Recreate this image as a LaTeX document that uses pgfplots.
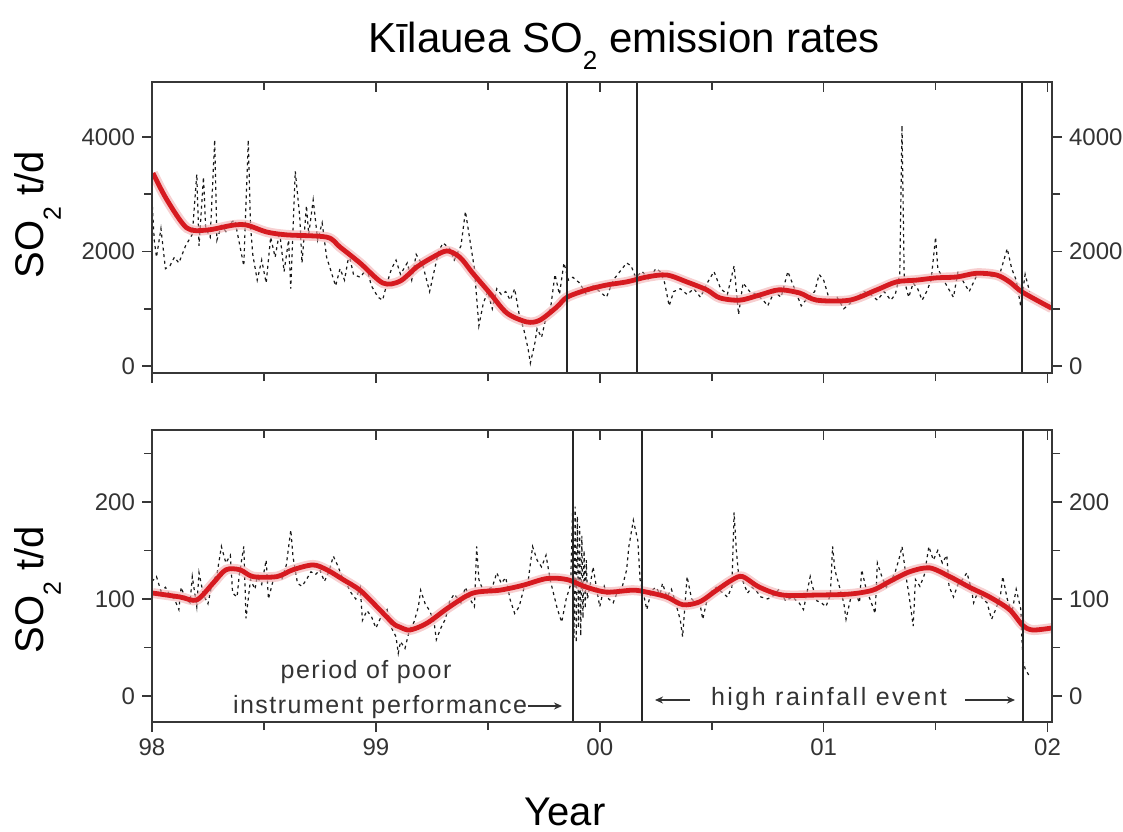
\documentclass[border=0pt]{standalone}
\usepackage{fontspec}
\setmainfont{Liberation Sans}
\newfontfamily\annfont[LetterSpace=6]{Liberation Sans}
\newfontfamily\annwidefont[LetterSpace=10]{Liberation Sans}
\usepackage{pgfplots}
\usepackage{pgfplotstable}
\pgfplotsset{compat=1.18}
\usetikzlibrary{arrows.meta}

\definecolor{fitred}{RGB}{214,26,32}
\definecolor{frame}{RGB}{55,55,55}

% low-set subscript used in the chemical formula
\newcommand{\lowsub}[1]{\raisebox{-0.42em}{\fontsize{0.62em}{0.7em}\selectfont #1}}

% Daily SO2 emission rates, 1998-2002 (t/d), upper panel
\pgfplotstableread{
x y
1998.00 2900
1998.01 2200
1998.02 1900
1998.04 2400
1998.06 1700
1998.08 1750
1998.10 1900
1998.12 1800
1998.15 2100
1998.18 2300
1998.20 3350
1998.21 2100
1998.23 3300
1998.24 2400
1998.26 2250
1998.28 3950
1998.29 2200
1998.31 2450
1998.33 2350
1998.35 2500
1998.37 2550
1998.39 2150
1998.41 1750
1998.43 3950
1998.44 2450
1998.45 1950
1998.47 1500
1998.49 1850
1998.51 1450
1998.53 2250
1998.55 1900
1998.57 2350
1998.59 1650
1998.61 2200
1998.62 1350
1998.64 3400
1998.66 2600
1998.67 1800
1998.69 2800
1998.70 2300
1998.72 2900
1998.74 2200
1998.76 2500
1998.78 1900
1998.80 1650
1998.82 1400
1998.84 1700
1998.86 1500
1998.88 1950
1998.90 1600
1998.93 1550
1998.96 1700
1998.98 1400
1999.01 1200
1999.03 1150
1999.05 1450
1999.07 1700
1999.09 1850
1999.11 1600
1999.14 1800
1999.16 1500
1999.18 1950
1999.21 1750
1999.24 1300
1999.26 1650
1999.28 2000
1999.30 2150
1999.33 2050
1999.35 1850
1999.38 2100
1999.40 2700
1999.42 2200
1999.44 1700
1999.46 700
1999.48 1100
1999.50 1300
1999.52 1000
1999.54 1350
1999.56 1250
1999.58 1300
1999.60 1150
1999.62 1350
1999.64 900
1999.66 650
1999.68 300
1999.69 50
1999.71 400
1999.72 650
1999.74 500
1999.76 850
1999.78 1000
1999.80 1600
1999.82 1250
1999.84 1800
1999.86 1500
1999.88 1550
1999.91 1450
1999.94 1250
1999.97 1400
2000.00 1300
2000.03 1200
2000.06 1500
2000.09 1650
2000.12 1800
2000.14 1750
2000.16 1550
2000.19 1650
2000.22 1500
2000.25 1700
2000.27 1650
2000.29 1450
2000.31 1050
2000.33 1300
2000.36 1350
2000.39 1250
2000.42 1350
2000.45 1200
2000.48 1450
2000.51 1650
2000.54 1350
2000.57 1250
2000.60 1750
2000.62 900
2000.64 1450
2000.67 1300
2000.70 1250
2000.73 1150
2000.75 1050
2000.78 1300
2000.81 1200
2000.84 1650
2000.87 1350
2000.90 1050
2000.93 1200
2000.96 1300
2000.98 1600
2001.00 1500
2001.03 1100
2001.06 1200
2001.09 1000
2001.12 1100
2001.15 1200
2001.18 1300
2001.21 1250
2001.24 1150
2001.27 1300
2001.30 1150
2001.32 1250
2001.34 1600
2001.35 4200
2001.36 1500
2001.38 1200
2001.40 1450
2001.42 1350
2001.44 1150
2001.46 1300
2001.48 1500
2001.50 2250
2001.51 1700
2001.53 1550
2001.55 1400
2001.58 1200
2001.60 1650
2001.62 1500
2001.65 1300
2001.68 1550
2001.70 1650
2001.73 1600
2001.76 1550
2001.79 1650
2001.82 2050
2001.84 1700
2001.86 1500
2001.88 1050
2001.90 1600
2001.92 1300
}\topobs

% Smoothed trend, upper panel
\pgfplotstableread{
x y
1998.004 3370
1998.067 2900
1998.156 2410
1998.246 2375
1998.362 2460
1998.424 2460
1998.513 2340
1998.603 2290
1998.781 2250
1998.839 2080
1998.929 1800
1999.031 1450
1999.107 1480
1999.183 1730
1999.254 1900
1999.317 2010
1999.375 1900
1999.433 1620
1999.509 1275
1999.585 925
1999.674 770
1999.732 800
1999.808 1030
1999.853 1200
1999.942 1330
2000.031 1415
2000.121 1470
2000.210 1555
2000.299 1590
2000.388 1470
2000.478 1330
2000.536 1190
2000.625 1150
2000.714 1240
2000.800 1330
2000.893 1275
2000.969 1150
2001.116 1150
2001.237 1330
2001.326 1470
2001.415 1500
2001.504 1540
2001.594 1555
2001.683 1620
2001.772 1590
2001.830 1470
2001.888 1290
2002.018 1010
}\topfit

% Daily emission rates, lower panel
\pgfplotstableread{
x y
1998.00 118
1998.02 123
1998.04 108
1998.06 112
1998.08 104
1998.10 100
1998.12 89
1998.13 112
1998.15 100
1998.17 96
1998.18 123
1998.20 92
1998.21 127
1998.23 104
1998.25 95
1998.27 118
1998.29 125
1998.31 154
1998.33 137
1998.35 145
1998.36 106
1998.38 102
1998.39 125
1998.41 154
1998.42 80
1998.44 120
1998.46 110
1998.47 123
1998.49 115
1998.51 140
1998.52 100
1998.54 118
1998.56 126
1998.58 120
1998.60 135
1998.62 171
1998.63 143
1998.65 116
1998.67 113
1998.69 120
1998.71 128
1998.73 125
1998.75 130
1998.77 118
1998.79 128
1998.81 144
1998.83 134
1998.85 122
1998.87 115
1998.89 106
1998.91 100
1998.93 112
1998.94 78
1998.96 88
1998.98 82
1999.00 70
1999.02 80
1999.05 89
1999.07 70
1999.09 61
1999.10 44
1999.11 56
1999.13 49
1999.15 68
1999.17 76
1999.19 92
1999.20 109
1999.22 95
1999.24 88
1999.26 76
1999.27 58
1999.29 70
1999.31 79
1999.33 98
1999.35 105
1999.38 96
1999.40 112
1999.42 100
1999.44 92
1999.45 154
1999.46 120
1999.48 108
1999.50 110
1999.52 112
1999.54 127
1999.56 116
1999.58 122
1999.60 99
1999.62 85
1999.64 92
1999.66 110
1999.68 118
1999.70 154
1999.72 140
1999.74 133
1999.76 145
1999.78 118
1999.79 109
1999.81 90
1999.83 76
1999.85 100
1999.87 115
1999.880 202
1999.885 60
1999.890 195
1999.895 55
1999.900 185
1999.905 70
1999.910 175
1999.915 62
1999.920 165
1999.925 80
1999.930 150
1999.935 90
1999.940 140
1999.945 100
1999.96 118
1999.97 133
1999.99 105
2000.00 92
2000.02 113
2000.04 100
2000.06 96
2000.08 108
2000.10 112
2000.12 130
2000.13 154
2000.15 181
2000.17 160
2000.18 120
2000.20 100
2000.21 89
2000.23 108
2000.25 112
2000.27 105
2000.28 116
2000.30 102
2000.32 110
2000.34 95
2000.36 78
2000.37 61
2000.39 123
2000.41 100
2000.43 96
2000.45 92
2000.46 79
2000.48 100
2000.50 108
2000.52 112
2000.55 106
2000.57 102
2000.59 112
2000.60 189
2000.61 150
2000.62 125
2000.64 118
2000.66 106
2000.68 112
2000.70 108
2000.72 102
2000.75 100
2000.78 104
2000.80 110
2000.83 98
2000.86 102
2000.89 96
2000.91 89
2000.94 123
2000.95 113
2000.97 98
2000.99 96
2001.01 92
2001.03 104
2001.04 154
2001.05 130
2001.07 113
2001.09 96
2001.10 79
2001.12 100
2001.14 108
2001.16 96
2001.17 130
2001.19 110
2001.21 98
2001.23 85
2001.24 137
2001.26 123
2001.28 112
2001.30 118
2001.32 128
2001.34 144
2001.35 154
2001.37 120
2001.38 106
2001.40 72
2001.41 120
2001.43 113
2001.45 125
2001.47 154
2001.49 140
2001.51 150
2001.53 137
2001.55 145
2001.56 113
2001.58 102
2001.60 115
2001.62 120
2001.64 127
2001.66 110
2001.67 96
2001.69 108
2001.71 100
2001.73 96
2001.75 79
2001.77 90
2001.79 104
2001.80 123
2001.82 100
2001.84 85
2001.86 110
2001.88 90
2001.89 37
2001.90 28
2001.92 20
}\botobs

% Smoothed trend, lower panel
\pgfplotstableread{
x y
1998.004 106
1998.125 102
1998.200 99
1998.272 116
1998.330 130
1998.393 130
1998.451 123
1998.558 123
1998.629 130
1998.719 135
1998.781 130
1998.853 120
1998.929 109
1999.004 92
1999.076 75
1999.107 71
1999.152 68
1999.228 75
1999.330 92
1999.433 106
1999.554 109
1999.656 114
1999.763 121
1999.853 120
1999.942 112
2000.031 107
2000.147 109
2000.210 107
2000.299 102
2000.371 94
2000.446 97
2000.522 109
2000.594 120
2000.638 123
2000.714 112
2000.817 104
2000.969 104
2001.116 105
2001.219 109
2001.295 118
2001.384 128
2001.473 132
2001.563 123
2001.652 112
2001.741 102
2001.830 89
2001.888 73
2001.933 68
2002.018 70
}\botfit

\pgfplotsset{
  panel/.style={scale only axis, width=450pt, xmin=1998, xmax=2002.02,
    at={(0,0)}, anchor=south west,
    axis line style={frame, line width=0.9pt},
    major tick length=5pt, minor tick length=4pt,
    tick style={frame, line width=0.8pt},
    tick label style={font=\fontsize{12}{14}\selectfont, text=black!80},
    /pgf/number format/assume math mode=true},
  topdims/.style={height=145.5pt, ymin=-122, ymax=4960},
  botdims/.style={height=146pt, ymin=-26.8, ymax=274},
  xt/.style={xtick={1998,1999,2000,2001,2002}, minor x tick num=1},
  topy/.style={ytick={0,2000,4000}, minor ytick={1000,3000}, yticklabels={0,2000,4000}},
  boty/.style={ytick={0,100,200}, minor ytick={50,150,250}, yticklabels={0,100,200}},
  obs/.style={black!90, line width=0.6pt, dash pattern=on 1.5pt off 1.8pt},
  fithalo/.style={fitred!35, line width=5pt, opacity=0.6, smooth, tension=0.5},
  fit/.style={fitred, line width=2.4pt, smooth, tension=0.5},
  gap/.style={black!85, line width=0.9pt},
}

\begin{document}
\begin{tikzpicture}
% ---------- upper panel ----------
\begin{axis}[panel, topdims, xt, topy, tick align=outside,
    xtick pos=bottom, ytick pos=left, xticklabels={}]
  \addplot[obs] table {\topobs};
  \addplot[fithalo] table {\topfit};
  \addplot[fit] table {\topfit};
  \addplot[gap] coordinates {(1999.853,-122) (1999.853,4960)};
  \addplot[gap] coordinates {(2000.168,-122) (2000.168,4960)};
  \addplot[gap] coordinates {(2001.885,-122) (2001.885,4960)};
\end{axis}
\begin{axis}[panel, topdims, topy, xtick=\empty, tick align=outside,
    ytick pos=right, yticklabel pos=right]
\end{axis}
\begin{axis}[panel, topdims, xt, ytick=\empty, tick align=inside,
    xtick pos=top, xticklabels={}]
\end{axis}

% ---------- lower panel ----------
\begin{scope}[yshift=-174.5pt]
\begin{axis}[panel, botdims, xt, boty, tick align=outside,
    xtick pos=bottom, ytick pos=left, xticklabels={98,99,00,01,02}]
  \addplot[obs] table {\botobs};
  \addplot[fithalo] table {\botfit};
  \addplot[fit] table {\botfit};
  \addplot[gap] coordinates {(1999.880,-26.8) (1999.880,274)};
  \addplot[gap] coordinates {(2000.190,-26.8) (2000.190,274)};
  \addplot[gap] coordinates {(2001.890,-26.8) (2001.890,274)};
\end{axis}
\begin{axis}[panel, botdims, boty, xtick=\empty, tick align=outside,
    ytick pos=right, yticklabel pos=right]
\end{axis}
\begin{axis}[panel, botdims, xt, ytick=\empty, tick align=inside,
    xtick pos=top, xticklabels={}]
\end{axis}
\end{scope}

% ---------- titles and labels ----------
\node[anchor=base] at (236pt,160.5pt)
  {\fontsize{21}{25}\selectfont Kīlauea SO\lowsub{2} emission rates};
\node[anchor=base, rotate=90] at (-54pt,79pt)
  {\fontsize{20}{24}\selectfont SO\lowsub{2} t/d};
\node[anchor=base, rotate=90] at (-54pt,-108.5pt)
  {\fontsize{20}{24}\selectfont SO\lowsub{2} t/d};
\node[anchor=base] at (206.5pt,-226pt) {\fontsize{20}{24}\selectfont Year};

% ---------- annotations ----------
\begin{scope}[every node/.style={text=black!80, inner sep=0pt}]
  \node[anchor=base, font=\annfont\fontsize{12.5}{15}\selectfont]
    at (107pt,-152.5pt) {period of poor};
  \node[anchor=base, font=\annfont\fontsize{12.5}{15}\selectfont]
    at (114pt,-170pt) {instrument performance};
  \node[anchor=base, font=\annwidefont\fontsize{12.5}{15}\selectfont]
    at (338.5pt,-166pt) {high rainfall event};
\end{scope}
\begin{scope}[black!80, line width=0.8pt, -{Stealth[length=4pt,width=3.5pt]}]
  \draw (188pt,-166.5pt) -- (205pt,-166.5pt);
  \draw (269pt,-163.5pt) -- (251.5pt,-163.5pt);
  \draw (406.5pt,-163.5pt) -- (431.5pt,-163.5pt);
\end{scope}

\pgfresetboundingbox
\path (-76pt,186.5pt) rectangle (485.5pt,-229pt);
\end{tikzpicture}
\end{document}
